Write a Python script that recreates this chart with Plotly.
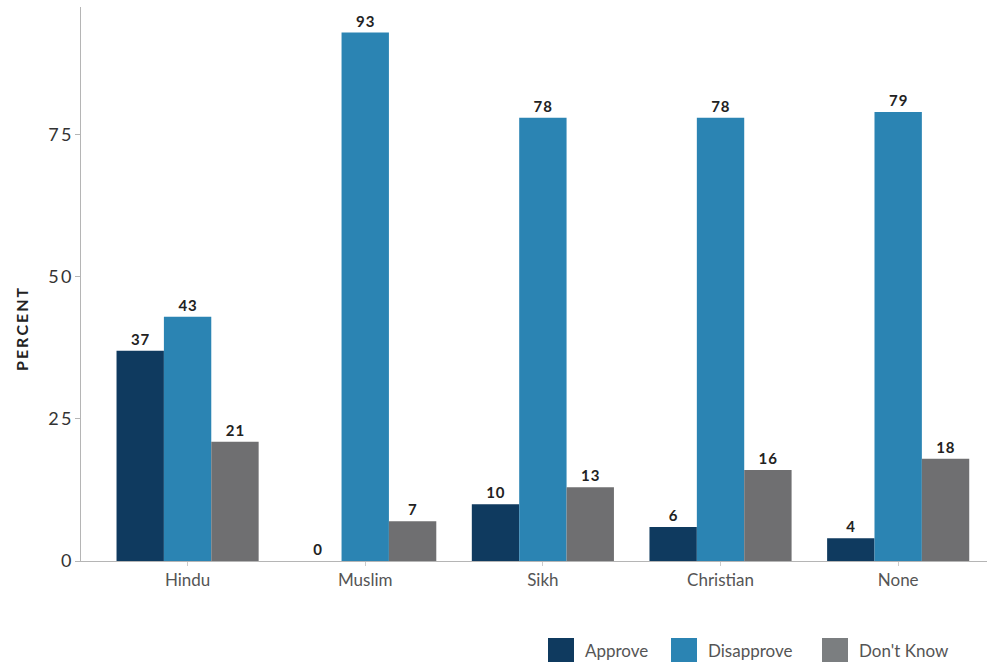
import plotly.graph_objects as go

groups = ["Hindu", "Muslim", "Sikh", "Christian", "None"]
approve = [37, 0, 10, 6, 4]
disapprove = [43, 93, 78, 78, 79]
dont_know = [21, 7, 13, 16, 18]
y_ticks = [0, 25, 50, 75]

series = [
    ("Approve", approve, "#0f3a5f"),
    ("Disapprove", disapprove, "#2b84b3"),
    ("Don't Know", dont_know, "#6f6f71"),
]
legend_swatch = {"Approve": "#0f3a5f", "Disapprove": "#2b84b3", "Don't Know": "#7b7e80"}

HAIR = "\u200a"
THIN = "\u2009"


def spaced(s, sep=HAIR):
    # widen tracking by putting narrow spaces between characters
    return sep.join(str(s))


fig = go.Figure()
for name, vals, col in series:
    fig.add_trace(go.Bar(
        x=groups, y=vals, name=name, marker_color=col, marker_line_width=0,
        text=[spaced(v) for v in vals], texttemplate="<b>%{text}</b>", textposition="outside",
        textfont=dict(family="Lato", size=15, color="#222222"),
        cliponaxis=False, showlegend=False,
    ))

W, H = 997, 662
ml, mr, mt, mb = 81, 10, 7, 101
pw, ph = W - ml - mr, H - mt - mb


def px(x):
    return (x - ml) / pw


def py(y):
    return (H - mb - y) / ph


# Legend drawn as swatches and labels below the plot
legend_items = [("Approve", 548, 583), ("Disapprove", 671, 706), ("Don't Know", 822, 857)]
shapes = []
annotations = []
for name, sx, tx in legend_items:
    shapes.append(dict(type="rect", xref="paper", yref="paper",
                       x0=px(sx), x1=px(sx + 26), y0=py(664), y1=py(638),
                       fillcolor=legend_swatch[name], line_width=0))
    annotations.append(dict(text=name, xref="paper", yref="paper", x=px(tx), y=py(650),
                            xanchor="left", yanchor="middle", showarrow=False,
                            font=dict(family="Lato", size=17, color="#555555")))

# Vertical axis title
annotations.append(dict(text="<b>" + spaced("PERCENT", THIN) + "</b>", textangle=-90,
                        xref="paper", yref="paper", x=px(21), y=py(329),
                        xanchor="center", yanchor="middle", showarrow=False,
                        font=dict(family="Lato", size=16, color="#222222")))

fig.update_layout(
    width=W, height=H,
    margin=dict(l=ml, r=mr, t=mt, b=mb),
    plot_bgcolor="white", paper_bgcolor="white",
    barmode="group", bargap=0.2, bargroupgap=0,
    shapes=shapes, annotations=annotations,
    font=dict(family="Lato", color="#444444"),
    xaxis=dict(range=[-0.6, 4.5], showline=True, linecolor="#b5b5b5", linewidth=1,
               ticks="outside", ticklen=4, tickcolor="#cccccc",
               tickfont=dict(family="Lato", size=17, color="#555555"),
               showgrid=False, zeroline=False),
    yaxis=dict(range=[0, 97.5], tickvals=y_ticks, ticktext=[spaced(t, THIN) for t in y_ticks],
               showline=True, linecolor="#b5b5b5", linewidth=1, ticks="outside", ticklen=5,
               tickcolor="#b5b5b5", showgrid=False, zeroline=False,
               tickfont=dict(family="Lato", size=18, color="#333333")),
)

fig.write_html("out.html")
